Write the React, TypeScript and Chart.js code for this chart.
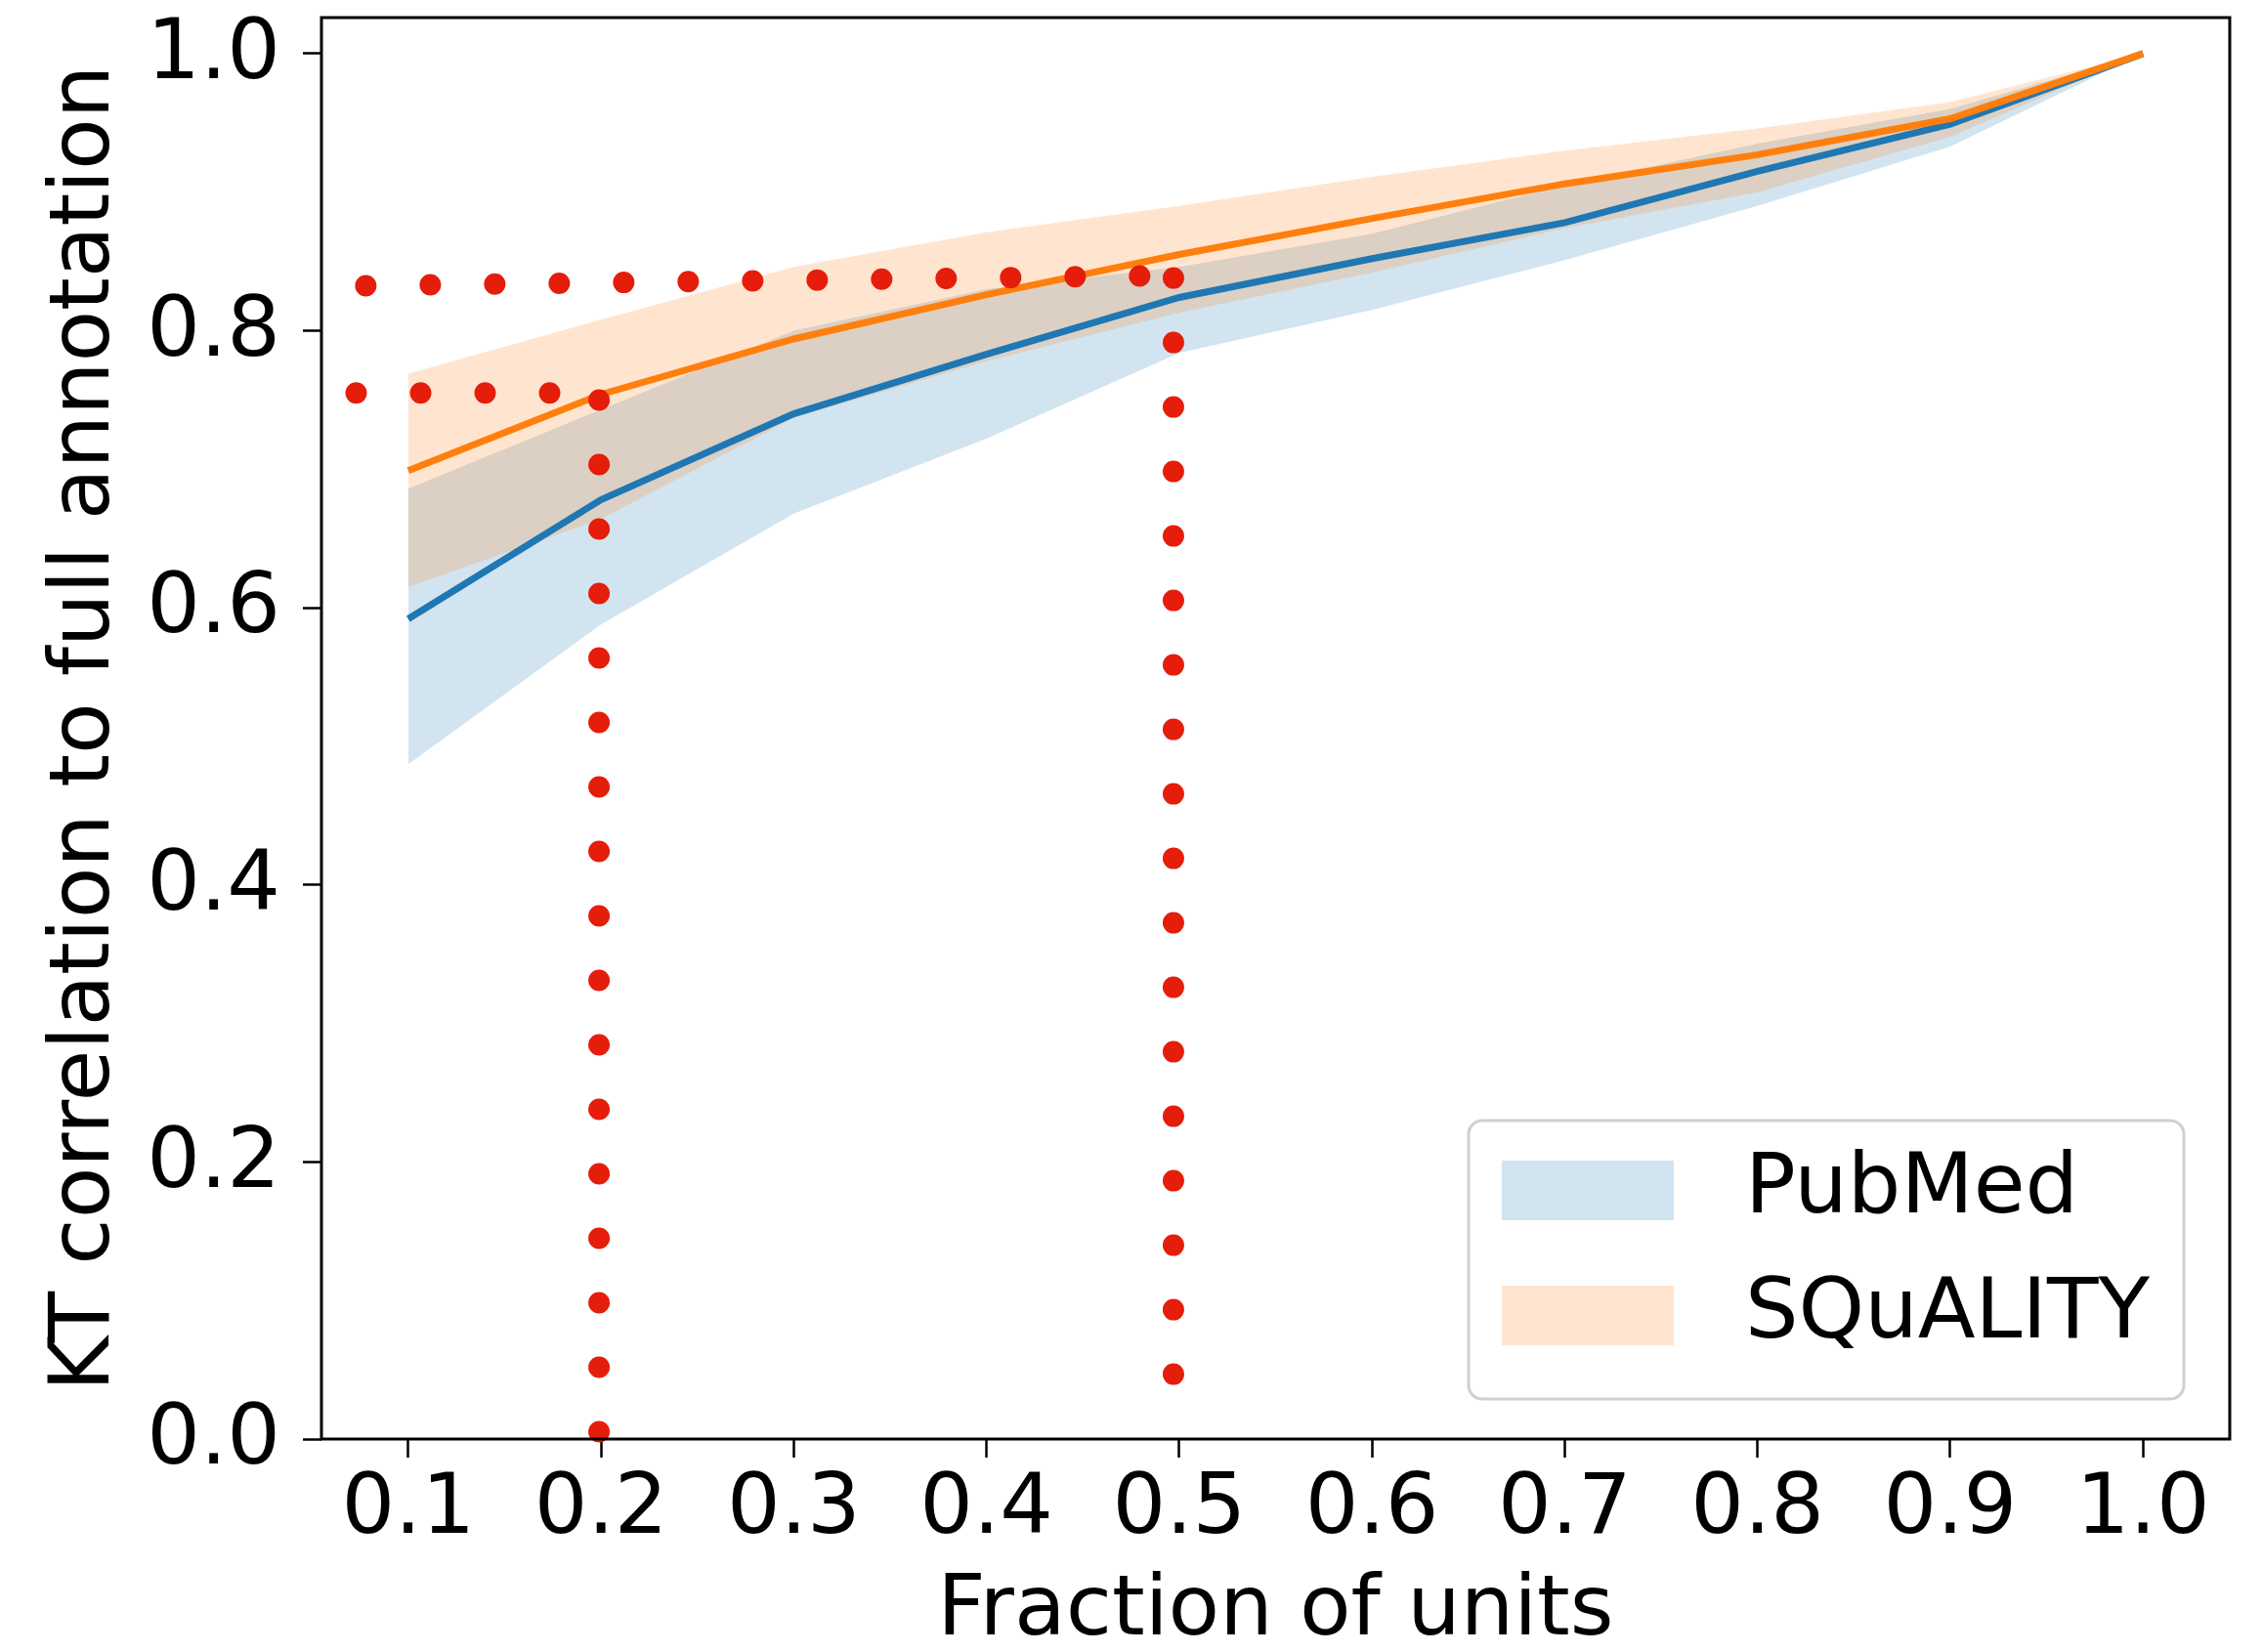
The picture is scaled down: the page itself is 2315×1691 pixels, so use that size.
import React, { useEffect, useRef } from 'react';
import { Chart, registerables } from 'chart.js';

Chart.register(...registerables);

// ---- data ----
const fractions = [0.1, 0.2, 0.3, 0.4, 0.5, 0.6, 0.7, 0.8, 0.9, 1.0];
const pubmedMean = [0.592, 0.678, 0.740, 0.783, 0.824, 0.852, 0.878, 0.915, 0.949, 1.0];
const pubmedUpper = [0.686, 0.743, 0.800, 0.830, 0.846, 0.870, 0.905, 0.935, 0.960, 1.0];
const pubmedLower = [0.487, 0.588, 0.668, 0.722, 0.784, 0.815, 0.851, 0.890, 0.933, 1.0];
const squalityMean = [0.699, 0.754, 0.794, 0.826, 0.855, 0.881, 0.906, 0.927, 0.953, 1.0];
const squalityUpper = [0.769, 0.808, 0.846, 0.871, 0.890, 0.911, 0.930, 0.946, 0.965, 1.0];
const squalityLower = [0.615, 0.664, 0.737, 0.778, 0.813, 0.842, 0.874, 0.900, 0.940, 1.0];

const seriesLabels = ['PubMed', 'SQuALITY'];
const xTitle = 'Fraction of units';
const yTitle = 'KT correlation to full annotation';
const xRange = [0.055, 1.045];
const yRange = [0, 1.026];
const xStep = 0.1;
const yStep = 0.2;

// red dotted guide lines (start, end)
const guideTopX = [0.078, 0.48];
const guideTopY = [0.8325, 0.8395];
const guideMidX = [0.073, 0.1745];
const guideMidY = [0.755, 0.755];
const guideLeftX = [0.199, 0.199];
const guideLeftY = [0.75, 0.003];
const guideRightX = [0.497, 0.497];
const guideRightY = [0.838, 0.045];

// ---- styles ----
const BLUE = '#1f77b4';
const ORANGE = '#ff7f0e';
const BLUE_BAND = 'rgba(31,119,180,0.2)';
const ORANGE_BAND = 'rgba(255,127,14,0.2)';
const RED = '#e51d0b';
const FONT = 'DejaVu Sans';
const FS = 86;

const pts = (xs: number[], ys: number[]) => xs.map((x, i) => ({ x, y: ys[i] }));

const lineDs = (label: string, ys: number[], color: string, order: number) => ({
  label,
  data: pts(fractions, ys),
  borderColor: color,
  borderWidth: 7,
  pointRadius: 0,
  fill: false,
  order,
});

const bandDs = (label: string, ys: number[], bg: string, order: number, target: number | false) => ({
  label,
  data: pts(fractions, ys),
  borderColor: 'rgba(0,0,0,0)',
  borderWidth: 0,
  backgroundColor: bg,
  pointRadius: 0,
  fill: target === false ? false : { target },
  order,
});

const guideDs = (xs: number[], ys: number[]) => ({
  label: 'guide',
  data: pts(xs, ys),
  borderColor: RED,
  borderWidth: 22,
  borderDash: [0, 66],
  borderCapStyle: 'round',
  pointRadius: 0,
  fill: false,
  clip: false,
  order: 0,
});

const framePlugin = {
  id: 'frame',
  afterDatasetsDraw(chart: any) {
    const { ctx, chartArea: a } = chart;
    ctx.save();
    ctx.strokeStyle = '#000';
    ctx.lineWidth = 3;
    ctx.strokeRect(a.left, a.top, a.right - a.left, a.bottom - a.top);
    ctx.restore();
  },
};

const legendPlugin = {
  id: 'bandLegend',
  afterDraw(chart: any) {
    const { ctx, chartArea: a } = chart;
    const w = 732;
    const h = 285;
    const right = a.right - 47;
    const bottom = a.bottom - 41;
    const left = right - w;
    const top = bottom - h;
    ctx.save();
    ctx.beginPath();
    ctx.roundRect(left, top, w, h, 14);
    ctx.fillStyle = 'rgba(255,255,255,0.8)';
    ctx.fill();
    ctx.lineWidth = 3;
    ctx.strokeStyle = '#d0d0d0';
    ctx.stroke();
    const colors = [BLUE_BAND, ORANGE_BAND];
    const rowTops = [41, 169];
    ctx.font = `${FS}px "${FONT}"`;
    ctx.textBaseline = 'middle';
    ctx.textAlign = 'left';
    seriesLabels.forEach((lab, i) => {
      const y = top + rowTops[i];
      ctx.fillStyle = '#fff';
      ctx.fillRect(left + 34, y, 176, 61);
      ctx.fillStyle = colors[i];
      ctx.fillRect(left + 34, y, 176, 61);
      ctx.fillStyle = '#000';
      ctx.fillText(lab, left + 283, y + 31);
    });
    ctx.restore();
  },
};

export default function App() {
  const ref = useRef<HTMLCanvasElement>(null);
  useEffect(() => {
    if (!ref.current) return;
    const chart = new Chart(ref.current, {
      type: 'line',
      data: {
        datasets: [
          lineDs(seriesLabels[0], pubmedMean, BLUE, 2) as any,
          bandDs(seriesLabels[0] + ' upper', pubmedUpper, BLUE_BAND, 4, 2) as any,
          bandDs(seriesLabels[0] + ' lower', pubmedLower, BLUE_BAND, 4, false) as any,
          lineDs(seriesLabels[1], squalityMean, ORANGE, 1) as any,
          bandDs(seriesLabels[1] + ' upper', squalityUpper, ORANGE_BAND, 3, 5) as any,
          bandDs(seriesLabels[1] + ' lower', squalityLower, ORANGE_BAND, 3, false) as any,
          guideDs(guideTopX, guideTopY) as any,
          guideDs(guideMidX, guideMidY) as any,
          guideDs(guideLeftX, guideLeftY) as any,
          guideDs(guideRightX, guideRightY) as any,
        ],
      },
      options: {
        responsive: false,
        devicePixelRatio: 1,
        animation: false,
        events: [],
        layout: { padding: { left: 0, top: 18, right: 33, bottom: 0 } },
        plugins: {
          legend: { display: false },
          tooltip: { enabled: false },
        },
        scales: {
          x: {
            type: 'linear',
            min: xRange[0],
            max: xRange[1],
            afterFit: (s: any) => {
              s.height = 218;
              s.paddingLeft = 0;
              s.paddingRight = 0;
              s.paddingTop = 0;
              s.paddingBottom = 0;
            },
            ticks: {
              stepSize: xStep,
              includeBounds: false,
              autoSkip: false,
              maxRotation: 0,
              minRotation: 0,
              padding: 12,
              color: '#000',
              font: { family: FONT, size: FS, lineHeight: 1 },
              callback: (v: any) => Number(v).toFixed(1),
            },
            grid: {
              display: true,
              drawOnChartArea: false,
              drawTicks: true,
              tickLength: 19,
              tickWidth: 2.5,
              tickColor: '#000',
              color: '#000',
            },
            border: { display: false },
            title: {
              display: true,
              text: xTitle,
              color: '#000',
              font: { family: FONT, size: FS, lineHeight: 0.93 },
              padding: { top: 0, bottom: 0 },
            },
          },
          y: {
            type: 'linear',
            min: yRange[0],
            max: yRange[1],
            afterFit: (s: any) => {
              s.width = 329;
              s.paddingLeft = 0;
              s.paddingRight = 0;
              s.paddingTop = 0;
              s.paddingBottom = 0;
            },
            ticks: {
              stepSize: yStep,
              includeBounds: false,
              autoSkip: false,
              padding: 23,
              labelOffset: 3,
              color: '#000',
              font: { family: FONT, size: FS, lineHeight: 1 },
              callback: (v: any) => Number(v).toFixed(1),
            },
            grid: {
              display: true,
              drawOnChartArea: false,
              drawTicks: true,
              tickLength: 19,
              tickWidth: 2.5,
              tickColor: '#000',
              color: '#000',
            },
            border: { display: false },
            title: {
              display: true,
              text: yTitle,
              color: '#000',
              font: { family: FONT, size: FS, lineHeight: 1 },
              padding: { top: 46, bottom: 0 },
            },
          },
        },
      } as any,
      plugins: [framePlugin, legendPlugin],
    });
    return () => chart.destroy();
  }, []);
  return (
    <div style={{ position: 'fixed', left: 0, top: 0, width: 2315, height: 1691, background: '#fff' }}>
      <canvas ref={ref} width={2315} height={1691} style={{ display: 'block' }} />
    </div>
  );
}
